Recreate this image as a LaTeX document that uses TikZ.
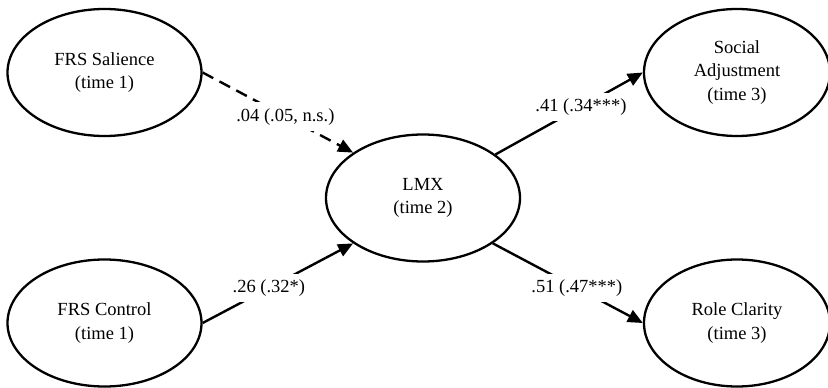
\documentclass[tikz,border=0pt]{standalone}
\usepackage{fontspec}
\setmainfont{Liberation Serif}
\usetikzlibrary{shapes.geometric,arrows.meta}
\tikzset{
  var/.style={draw, ellipse, line width=2.3pt, minimum width=194pt, minimum height=127pt, inner sep=0pt, align=center, font=\fontsize{18.5}{23.5}\selectfont},
  path/.style={line width=2.4pt, -{Triangle[length=15pt,width=13pt]}},
  coef/.style={fill=white, inner xsep=3pt, inner ysep=6pt, font=\fontsize{18.5}{22}\selectfont}
}
\begin{document}
\begin{tikzpicture}[x=1pt,y=-1pt]
\useasboundingbox (0,0) rectangle (828,388);
\node[var] (sal) at (104.5,72.5) {FRS Salience\\(time 1)};
\node[var] (ctl) at (104.5,323) {FRS Control\\(time 1)};
\node[var] (lmx) at (423,198) {LMX\\(time 2)};
\node[var, minimum width=186pt] (soc) at (737,72.5) {Social\\Adjustment\\(time 3)};
\node[var, minimum width=186pt] (role) at (737,323) {Role Clarity\\(time 3)};
\draw[path, dash pattern=on 12pt off 7pt] (sal.east) -- node[coef, pos=0.55] {.04 (.05, n.s.)} (lmx.147);
\draw[path] (ctl.east) -- node[coef, pos=0.44] {.26 (.32*)} (lmx.213);
\draw[path] (lmx.31) -- node[coef, pos=0.58] {.41 (.34***)} (soc.west);
\draw[path] (lmx.327) -- node[coef, pos=0.56] {.51 (.47***)} (role.west);
\end{tikzpicture}
\end{document}
